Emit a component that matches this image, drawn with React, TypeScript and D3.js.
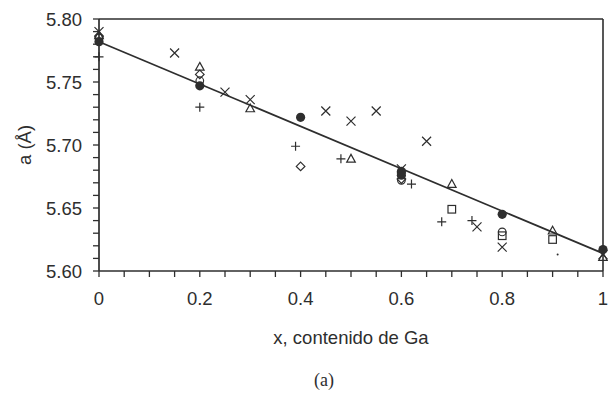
import React from 'react'
import * as d3 from 'd3'

// lattice parameter of Cu(In,Ga)Se2 vs Ga content, one list per marker kind
const filledX = [0, 0.2, 0.4, 0.6, 0.6, 0.8, 1]
const filledY = [5.782, 5.747, 5.722, 5.679, 5.676, 5.645, 5.617]

const triX = [0, 0.2, 0.3, 0.5, 0.7, 0.9, 1]
const triY = [5.787, 5.762, 5.729, 5.689, 5.669, 5.632, 5.611]

const crossX = [0, 0.15, 0.25, 0.3, 0.45, 0.5, 0.55, 0.6, 0.65, 0.75, 0.8, 1]
const crossY = [5.790, 5.773, 5.742, 5.736, 5.727, 5.719, 5.727, 5.681, 5.703, 5.635, 5.619, 5.613]

const plusX = [0, 0.2, 0.39, 0.48, 0.62, 0.68, 0.74]
const plusY = [5.770, 5.730, 5.699, 5.689, 5.669, 5.639, 5.640]

const diamondX = [0, 0.2, 0.4, 0.6]
const diamondY = [5.786, 5.756, 5.683, 5.673]

const circleX = [0, 0.2, 0.6, 0.8]
const circleY = [5.785, 5.751, 5.672, 5.631]

const squareX = [0.7, 0.8, 0.9]
const squareY = [5.649, 5.628, 5.625]

const dotX = [0.91]
const dotY = [5.613]

// Vegard line end points
const fitX = [0, 1]
const fitY = [5.782, 5.614]

const yMajor = [5.6, 5.65, 5.7, 5.75, 5.8]
const xLabels = [0, 0.2, 0.4, 0.6, 0.8, 1]

const W = 608
const H = 396
const M = { top: 19, right: 5, bottom: 125, left: 99 }
const ink = '#2e2e2e'

export default function App() {
  const x = d3.scaleLinear().domain([0, 1]).range([M.left, W - M.right])
  const y = d3.scaleLinear().domain([5.6, 5.8]).range([H - M.bottom, M.top])
  const yMinor = d3.range(0, 21).map(i => 5.6 + i * 0.01)
  const xMinor = d3.range(0, 21).map(i => i * 0.05)
  const line = d3.line<number>().x((_, i) => x(fitX[i])).y(d => y(d))

  const s = 4.5
  const marker = (kind: string, cx: number, cy: number, k: string) => {
    switch (kind) {
      case 'filled':
        return <circle key={k} cx={cx} cy={cy} r={4.6} fill={ink} />
      case 'circle':
        return <circle key={k} cx={cx} cy={cy} r={3.8} fill="none" stroke={ink} strokeWidth={1.2} />
      case 'tri':
        return <path key={k} d={`M${cx},${cy - 4.5}L${cx + 4.3},${cy + 3.3}L${cx - 4.3},${cy + 3.3}Z`} fill="none" stroke={ink} strokeWidth={1.2} />
      case 'diamond':
        return <path key={k} d={`M${cx},${cy - 4.3}L${cx + 4.3},${cy}L${cx},${cy + 4.3}L${cx - 4.3},${cy}Z`} fill="none" stroke={ink} strokeWidth={1.2} />
      case 'square':
        return <rect key={k} x={cx - 3.8} y={cy - 3.8} width={7.6} height={7.6} fill="none" stroke={ink} strokeWidth={1.2} />
      case 'cross':
        return <path key={k} d={`M${cx - s},${cy - s}L${cx + s},${cy + s}M${cx - s},${cy + s}L${cx + s},${cy - s}`} stroke={ink} strokeWidth={1.2} />
      case 'plus':
        return <path key={k} d={`M${cx - s},${cy}L${cx + s},${cy}M${cx},${cy - s}L${cx},${cy + s}`} stroke={ink} strokeWidth={1.2} />
      default:
        return <circle key={k} cx={cx} cy={cy} r={1} fill={ink} />
    }
  }

  const series: [string, number[], number[]][] = [
    ['square', squareX, squareY],
    ['circle', circleX, circleY],
    ['diamond', diamondX, diamondY],
    ['plus', plusX, plusY],
    ['cross', crossX, crossY],
    ['tri', triX, triY],
    ['filled', filledX, filledY],
    ['dot', dotX, dotY],
  ]

  return (
    <svg width={W} height={H} style={{ position: 'absolute', left: 0, top: 0, background: '#fff' }}
      fontFamily="'Liberation Sans', Arial, sans-serif">
      {/* frame */}
      <line x1={M.left} x2={W - M.right} y1={M.top} y2={M.top} stroke={ink} strokeWidth={1.6} />
      <line x1={W - M.right} x2={W - M.right} y1={M.top} y2={H - M.bottom} stroke={ink} strokeWidth={1.6} />

      {/* y axis */}
      <line x1={M.left} x2={M.left} y1={M.top} y2={H - M.bottom} stroke={ink} strokeWidth={1.7} />
      {yMinor.map((v, i) => (
        <line key={i} x1={M.left - 6} x2={M.left} y1={y(v)} y2={y(v)} stroke={ink} strokeWidth={1.3} />
      ))}
      {yMajor.map(v => (
        <text key={v} x={M.left - 17} y={y(v)} dy="0.36em" textAnchor="end" fontSize={18.5} fill={ink}>
          {v.toFixed(2)}
        </text>
      ))}

      {/* x axis */}
      <line x1={M.left} x2={W - M.right} y1={H - M.bottom} y2={H - M.bottom} stroke={ink} strokeWidth={1.7} />
      {xMinor.map((v, i) => (
        <line key={i} x1={x(v)} x2={x(v)} y1={H - M.bottom} y2={H - M.bottom + 6} stroke={ink} strokeWidth={1.3} />
      ))}
      {xLabels.map(v => (
        <text key={v} x={x(v)} y={305} textAnchor="middle" fontSize={18.5} fill={ink}>
          {String(v)}
        </text>
      ))}

      <text x={(M.left + W - M.right) / 2} y={344} textAnchor="middle" fontSize={18.5} fill={ink}>
        x, contenido de Ga
      </text>
      <text transform={`translate(31,145) rotate(-90)`} textAnchor="middle" fontSize={18.5} fill={ink}>
        a (Å)
      </text>
      <text x={324} y={386} textAnchor="middle" fontSize={18} fill={ink}
        fontFamily="'Liberation Serif', 'Times New Roman', serif">
        (a)
      </text>

      {/* fit line */}
      <path d={line(fitY) || ''} fill="none" stroke={ink} strokeWidth={1.7} />

      {series.map(([kind, xs, ys]) =>
        xs.map((v, i) => marker(kind, x(v), y(ys[i]), `${kind}-${i}`))
      )}
    </svg>
  )
}
